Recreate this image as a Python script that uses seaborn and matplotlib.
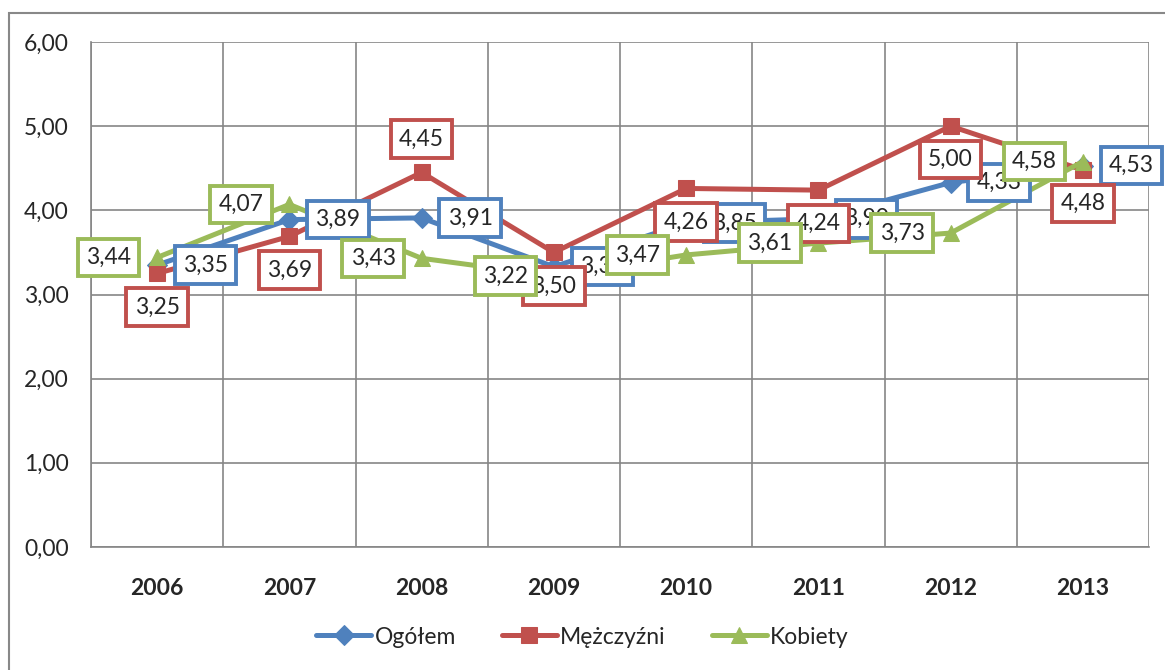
import matplotlib
matplotlib.use("Agg")
import matplotlib.pyplot as plt
import seaborn as sns
import pandas as pd
from matplotlib.patches import Rectangle

years = ["2006", "2007", "2008", "2009", "2010", "2011", "2012", "2013"]
ogolem = [3.35, 3.89, 3.91, 3.33, 3.85, 3.90, 4.33, 4.53]
mezczyzni = [3.25, 3.69, 4.45, 3.50, 4.26, 4.24, 5.00, 4.48]
kobiety = [3.44, 4.07, 3.43, 3.22, 3.47, 3.61, 3.73, 4.58]
series_names = ["Ogółem", "Mężczyźni", "Kobiety"]
yticks = [0, 1, 2, 3, 4, 5, 6]

colors = {"Ogółem": "#4F81BD", "Mężczyźni": "#C0504D", "Kobiety": "#9BBB59"}
markers = {"Ogółem": "D", "Mężczyźni": "s", "Kobiety": "^"}
msizes = {"Ogółem": 10, "Mężczyźni": 11, "Kobiety": 12}

sns.set_theme(style="white")
plt.rcParams["font.family"] = ["Lato", "DejaVu Sans"]

rows = []
for name, vals in zip(series_names, [ogolem, mezczyzni, kobiety]):
    for i, v in enumerate(vals):
        rows.append({"x": i, "year": years[i], "value": v, "series": name})
df = pd.DataFrame(rows)

fig = plt.figure(figsize=(11.65, 6.7), dpi=100)
fig.patches.append(Rectangle((9 / 1165, -0.1), 1.2, 1 - 13 / 670 + 0.1,
                             transform=fig.transFigure, fill=False,
                             edgecolor="#888888", linewidth=1.5))
ax = fig.add_axes([91 / 1165, 1 - 547 / 670, (1149 - 91) / 1165, (547 - 42) / 670])

for name in series_names:
    sub = df[df["series"] == name]
    sns.lineplot(data=sub, x="x", y="value", ax=ax, color=colors[name],
                 marker=markers[name], markersize=msizes[name],
                 markeredgecolor=colors[name], linewidth=3.6, label=name,
                 zorder=3)

FS = 16.5
ax.set_xlim(-0.5, 7.5)
ax.set_ylim(0, 6)
ax.set_yticks(yticks)
ax.set_yticklabels([f"{v:.2f}".replace(".", ",") for v in yticks], fontsize=FS)
ax.set_xticks(range(len(years)))
ax.set_xticklabels(years, fontsize=FS, fontweight="bold")
ax.set_xticks([i - 0.5 for i in range(len(years) + 1)], minor=True)
ax.tick_params(axis="x", which="major", length=0, pad=22)
ax.tick_params(axis="x", which="minor", length=5, color="#868686", width=1.2)
ax.tick_params(axis="y", which="major", length=5, color="#868686", width=1.2, pad=11)
ax.set_xlabel("")
ax.set_ylabel("")
ax.grid(True, axis="y", which="major", color="#868686", linewidth=1.2)
ax.grid(True, axis="x", which="minor", color="#868686", linewidth=1.2)
ax.grid(False, axis="x", which="major")
for s in ["top", "right"]:
    ax.spines[s].set_visible(False)
for s in ["left", "bottom"]:
    ax.spines[s].set_color("#868686")
    ax.spines[s].set_linewidth(1.2)

def lab(x, y, text, color, pos, z):
    px = 1 / 1.39
    if pos == "right":
        off, ha, va = (26 * px, 0), "left", "center"
    elif pos == "left":
        off, ha, va = (-26 * px, 0), "right", "center"
    elif pos == "below":
        off, ha, va = (0, -23 * px), "center", "top"
    else:
        off, ha, va = (0, 23 * px), "center", "bottom"
    ax.annotate(text, (x, y), xytext=off, textcoords="offset points",
                ha=ha, va=va, fontsize=FS, zorder=z,
                bbox=dict(boxstyle="square,pad=0.36", fc="white",
                          ec=color, lw=2.8))

fmt = lambda v: f"{v:.2f}".replace(".", ",")
for i, v in enumerate(ogolem):
    lab(i, v, fmt(v), colors["Ogółem"], "right", 5)
for i, v in enumerate(mezczyzni):
    lab(i, v, fmt(v), colors["Mężczyźni"], "above" if i == 2 else "below", 6)
for i, v in enumerate(kobiety):
    lab(i, v, fmt(v), colors["Kobiety"], "left", 7)

ax.get_legend().remove()
handles, labels = ax.get_legend_handles_labels()
fig.legend(handles, labels, loc="center", bbox_to_anchor=(0.5, 1 - 637 / 670),
           ncol=3, frameon=False, fontsize=FS, handlelength=2.4,
           handletextpad=0.15, columnspacing=2.0)

fig.savefig("out.png", dpi=100)
